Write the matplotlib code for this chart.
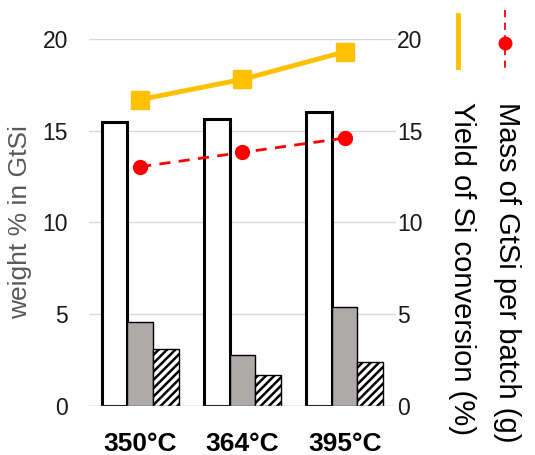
import matplotlib.pyplot as plt
import numpy as np
from matplotlib.lines import Line2D

plt.rcParams["font.family"] = ["Liberation Sans", "DejaVu Sans"]
plt.rcParams["hatch.linewidth"] = 1.8

# 反応温度ごとのデータ
temps = ["350°C", "364°C", "395°C"]
wt_total = [15.5, 15.64, 16.0]
wt_gray = [4.58, 2.76, 5.38]
wt_hatch = [3.09, 1.67, 2.40]
yield_si = [16.7, 17.8, 19.3]
mass_gtsi = [13.04, 13.82, 14.6]

fig = plt.figure(figsize=(5.35, 4.55), dpi=100)
ax = fig.add_axes([0.1664, 0.1077, 0.5735, 0.8066])
ax2 = ax.twinx()

x = np.arange(len(temps))
w = 0.25

ax.set_axisbelow(True)
ax.yaxis.grid(True, color="#d9d9d9", linewidth=1.0)
ax.bar(x - w, wt_total, w, color="white", edgecolor="black", linewidth=2.2)
ax.bar(x, wt_gray, w, color="#aeaaaa", edgecolor="black", linewidth=1.0)
ax.bar(x + w, wt_hatch, w, color="white", edgecolor="black", linewidth=1.0,
       hatch="////")
ax.axhline(0, color="#bfbfbf", linewidth=1.0, zorder=3)

ax.set_xlim(-0.5, 2.5)
ax.set_ylim(0, 20)
ax.set_yticks([0, 5, 10, 15, 20])
ax.set_xticks(x)
ax.set_xticklabels(temps, fontsize=19, fontweight="bold")
ax.tick_params(axis="x", length=0, pad=19)
ax.tick_params(axis="y", length=0, pad=15, labelsize=16.5, labelcolor="#1a1a1a")
ax.set_ylabel("weight % in GtSi", fontsize=19, color="#595959")
ax.yaxis.set_label_coords(-0.186, 0.5)

ax2.plot(x, yield_si, color="#ffc000", linewidth=3.5, marker="s",
         markersize=13, zorder=4)
ax2.plot(x, mass_gtsi, color="#ff0000", linewidth=2.0, linestyle=(0, (4, 3)),
         marker="o", markersize=10, zorder=4)
ax2.set_ylim(0, 20)
ax2.set_yticks([0, 5, 10, 15, 20])
ax2.tick_params(axis="y", length=0, pad=1, labelsize=16.5, labelcolor="#1a1a1a")

for a in (ax, ax2):
    for s in a.spines.values():
        s.set_visible(False)

# 縦向きの凡例
fig.add_artist(Line2D([0.856, 0.856], [0.967, 0.853], color="#ffc000",
                      linewidth=3.5, transform=fig.transFigure))
fig.add_artist(Line2D([0.944, 0.944], [0.978, 0.840], color="#ff0000",
                      linewidth=1.3, linestyle=(0, (4, 3)),
                      transform=fig.transFigure))
fig.add_artist(Line2D([0.944], [0.905], color="#ff0000", marker="o",
                      markersize=9, transform=fig.transFigure))
fig.text(0.864, 0.775, "Yield of Si conversion (%)", rotation=-90,
         fontsize=21, ha="center", va="top", color="black")
fig.text(0.948, 0.775, "Mass of GtSi per batch (g)", rotation=-90,
         fontsize=21, ha="center", va="top", color="black")

fig.savefig("out.png", dpi=100)
